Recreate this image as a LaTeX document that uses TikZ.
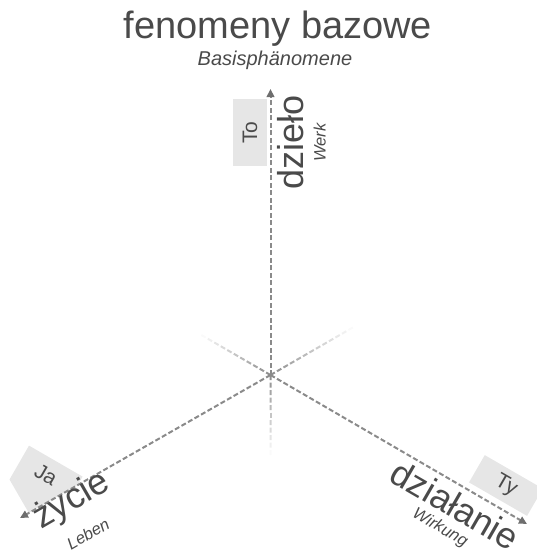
\documentclass[tikz,border=0pt]{standalone}
\usepackage{fontspec}
\setmainfont{Liberation Sans}
\usetikzlibrary{arrows.meta,calc}
\definecolor{txt}{HTML}{4A4A4A}
\definecolor{boxc}{HTML}{E6E6E6}
\definecolor{axc}{HTML}{8A8A8A}
\definecolor{tipc}{HTML}{6E6E6E}
\newcommand\fadeaxis[3]{%
  \pgfmathtruncatemacro\fdn{floor((#3-5)/7.5)}%
  \foreach \k in {0,...,\fdn}{%
    \pgfmathsetmacro\fda{\k*7.5/#3}%
    \pgfmathsetmacro\fdb{(\k*7.5+5)/#3}%
    \pgfmathsetmacro\fdp{100*(1-(\k+0.5)/(\fdn+1))}%
    \draw[line width=2pt, color=axc!\fdp!white] ($(#1)!\fda!(#2)$) -- ($(#1)!\fdb!(#2)$);
  }%
}
\begin{document}
\begin{tikzpicture}[x=1pt,y=-1pt,
  axis/.style={line width=2pt, color=axc, dash pattern=on 5pt off 2.5pt,
    -{Triangle[length=8pt,width=7.5pt,color=tipc]}},
  lbl/.style={inner sep=0pt, text=txt},
  big/.style={lbl, font=\fontsize{36}{38}\selectfont},
  small/.style={lbl, font=\fontsize{16.5}{18}\selectfont\itshape},
  tagtext/.style={lbl, font=\fontsize{21}{23}\selectfont},
  tag/.style={tagtext, fill=boxc},
]
\useasboundingbox (0,0) rectangle (536,551);
% title
\node[lbl, font=\fontsize{38}{40}\selectfont, anchor=base] (title) at (278,38) {fenomeny bazowe};
\node[lbl, font=\fontsize{20}{22}\selectfont\itshape, anchor=base] (subtitle) at (275,66) {Basisphänomene};
% boxes
\node[tag, rotate=90, minimum width=67pt, minimum height=34pt] (to) at (250,132.5) {To};
\node[tag, rotate=-30, minimum width=67pt, minimum height=31.5pt] (ty) at (505.9,485.5) {};
\fill[boxc] (9.5,479.5) -- (29,445.6) -- (82.6,476.6) -- (77.7,485) -- (28.8,512.9) -- cycle;
% axes
\coordinate (c) at (270.5,375);
\coordinate (top) at (270.5,89);
\coordinate (left) at (20,518);
\coordinate (right) at (527,524);
\coordinate (fu) at (270.5,460);
\coordinate (fl) at (197,332.5);
\coordinate (fr) at (354.5,326.5);
\fadeaxis{c}{fu}{85}
\fadeaxis{c}{fl}{85}
\fadeaxis{c}{fr}{97}
\draw[axis] (c) -- (top);
\draw[axis] (c) -- (left);
\draw[axis] (c) -- (right);
% labels
\node[tagtext, rotate=-30] (tytext) at (ty.center) {Ty};
\node[tagtext, rotate=-30] (ja) at (46,475) {Ja};
\node[big, rotate=90, anchor=base west] (dzielo) at (303,190) {dzieło};
\node[small, rotate=90, anchor=base west] (werk) at (325.5,162) {Werk};
\node[big, rotate=-30, anchor=base west] (dzialanie) at (387,480) {działanie};
\node[small, rotate=-30] (wirkung) at (440,528) {Wirkung};
\node[big, rotate=30, anchor=base west] (zycie) at (41,530) {życie};
\node[small, rotate=30] (leben) at (88,534) {Leben};
\end{tikzpicture}
\end{document}
